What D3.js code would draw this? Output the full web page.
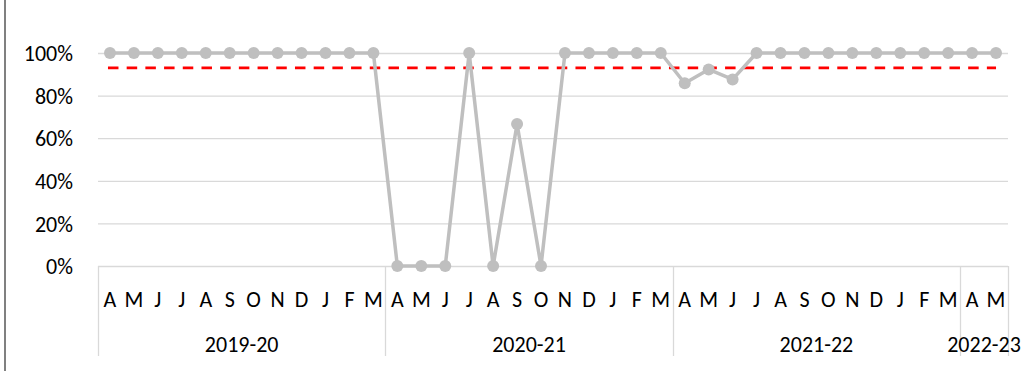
<!DOCTYPE html>
<html>
<head>
<meta charset="utf-8">
<script src="https://cdn.jsdelivr.net/npm/d3@7"></script>
<style>
  html, body { margin: 0; padding: 0; background: #fff; }
  svg { display: block; }
  text { font-family: Carlito, Calibri, Lato, "Open Sans", sans-serif; fill: #000; }
</style>
</head>
<body>
<svg id="chart" width="1029" height="371"></svg>
<script>
// Financial years and the months shown for each
const years = ["2019-20", "2020-21", "2021-22", "2022-23"];
const yearMonths = [
  ["A","M","J","J","A","S","O","N","D","J","F","M"],
  ["A","M","J","J","A","S","O","N","D","J","F","M"],
  ["A","M","J","J","A","S","O","N","D","J","F","M"],
  ["A","M"]
];
// Monthly performance (%)
const values2019 = [100,100,100,100,100,100,100,100,100,100,100,100];
const values2020 = [0,0,0,100,0,66.7,0,100,100,100,100,100];
const values2021 = [85.8,92.3,87.6,100,100,100,100,100,100,100,100,100];
const values2022 = [100,100];
const target = 93;
const yTicks = [0, 20, 40, 60, 80, 100];

const series = [values2019, values2020, values2021, values2022];
const points = [];
series.forEach((vals, yi) => vals.forEach((v, mi) => points.push({
  key: yi + "-" + mi, year: yi, month: yearMonths[yi][mi], value: v
})));

const FONT = 22;
const svg = d3.select("#chart");
const plotLeft = 98, plotRight = 1008, plotTop = 53, plotBottom = 266;

const x = d3.scaleBand().domain(points.map(d => d.key)).range([plotLeft, plotRight]).paddingInner(0).paddingOuter(0);
const y = d3.scaleLinear().domain([0, 100]).range([plotBottom, plotTop]);
const cx = d => x(d.key) + x.bandwidth() / 2;

// outer frame edge on the left
svg.append("line").attr("x1", 5).attr("x2", 5).attr("y1", 0).attr("y2", 371)
  .attr("stroke", "#808080").attr("stroke-width", 2);

// horizontal gridlines
svg.append("g").selectAll("line").data(yTicks.filter(t => t > 0)).join("line")
  .attr("x1", plotLeft).attr("x2", plotRight)
  .attr("y1", d => y(d) + 0.5).attr("y2", d => y(d) + 0.5)
  .attr("stroke", "#d9d9d9").attr("stroke-width", 1.3);

// y-axis labels
const yAxis = d3.axisLeft(y).tickValues(yTicks).tickFormat(d => d + "%").tickSize(0).tickPadding(0);
const yg = svg.append("g").attr("transform", `translate(${plotLeft - 25},0)`).call(yAxis);
yg.attr("font-size", null).attr("font-family", null);
yg.select(".domain").remove();
yg.selectAll("text").attr("dy", "0.35em")
  .style("font-size", FONT + "px")
  .style("font-family", "Carlito, Calibri, Lato, 'Open Sans', sans-serif").attr("fill", "#000");

// category axis: baseline and year separators
svg.append("line").attr("x1", plotLeft).attr("x2", plotRight).attr("y1", plotBottom + 0.5).attr("y2", plotBottom + 0.5)
  .attr("stroke", "#d9d9d9").attr("stroke-width", 1.3);

const yearStart = years.map((yr, i) => x(i + "-0"));
const yearEnd = years.map((yr, i) => {
  const k = i + "-" + (yearMonths[i].length - 1);
  return x(k) + x.bandwidth();
});
const seps = yearStart.concat([yearEnd[yearEnd.length - 1]]);
svg.append("g").selectAll("line").data(seps).join("line")
  .attr("x1", d => Math.round(d) + 0.5).attr("x2", d => Math.round(d) + 0.5)
  .attr("y1", plotBottom).attr("y2", 356)
  .attr("stroke", "#d9d9d9").attr("stroke-width", 1.3);

// month labels
svg.append("g").selectAll("text").data(points).join("text")
  .attr("x", cx).attr("y", 299).attr("dy", "0.35em")
  .attr("text-anchor", "middle").style("font-size", FONT + "px")
  .text(d => d.month);

// year labels
svg.append("g").selectAll("text").data(years).join("text")
  .attr("x", (d, i) => (yearStart[i] + yearEnd[i]) / 2).attr("y", 344).attr("dy", "0.35em")
  .attr("text-anchor", "middle").style("font-size", FONT + "px")
  .text(d => d);

// target line
const first = points[0], last = points[points.length - 1];
svg.append("line")
  .attr("x1", cx(first) - 2).attr("x2", cx(last))
  .attr("y1", y(target)).attr("y2", y(target))
  .attr("stroke", "#ff0000").attr("stroke-width", 2.7)
  .attr("stroke-dasharray", "10.5 8.2");

// performance line and markers
const line = d3.line().x(cx).y(d => y(d.value));
svg.append("path").datum(points).attr("d", line)
  .attr("fill", "none").attr("stroke", "#bfbfbf").attr("stroke-width", 3.5).attr("stroke-linejoin", "round");
svg.append("g").selectAll("circle").data(points).join("circle")
  .attr("cx", cx).attr("cy", d => y(d.value)).attr("r", 6)
  .attr("fill", "#bfbfbf");
</script>
</body>
</html>
